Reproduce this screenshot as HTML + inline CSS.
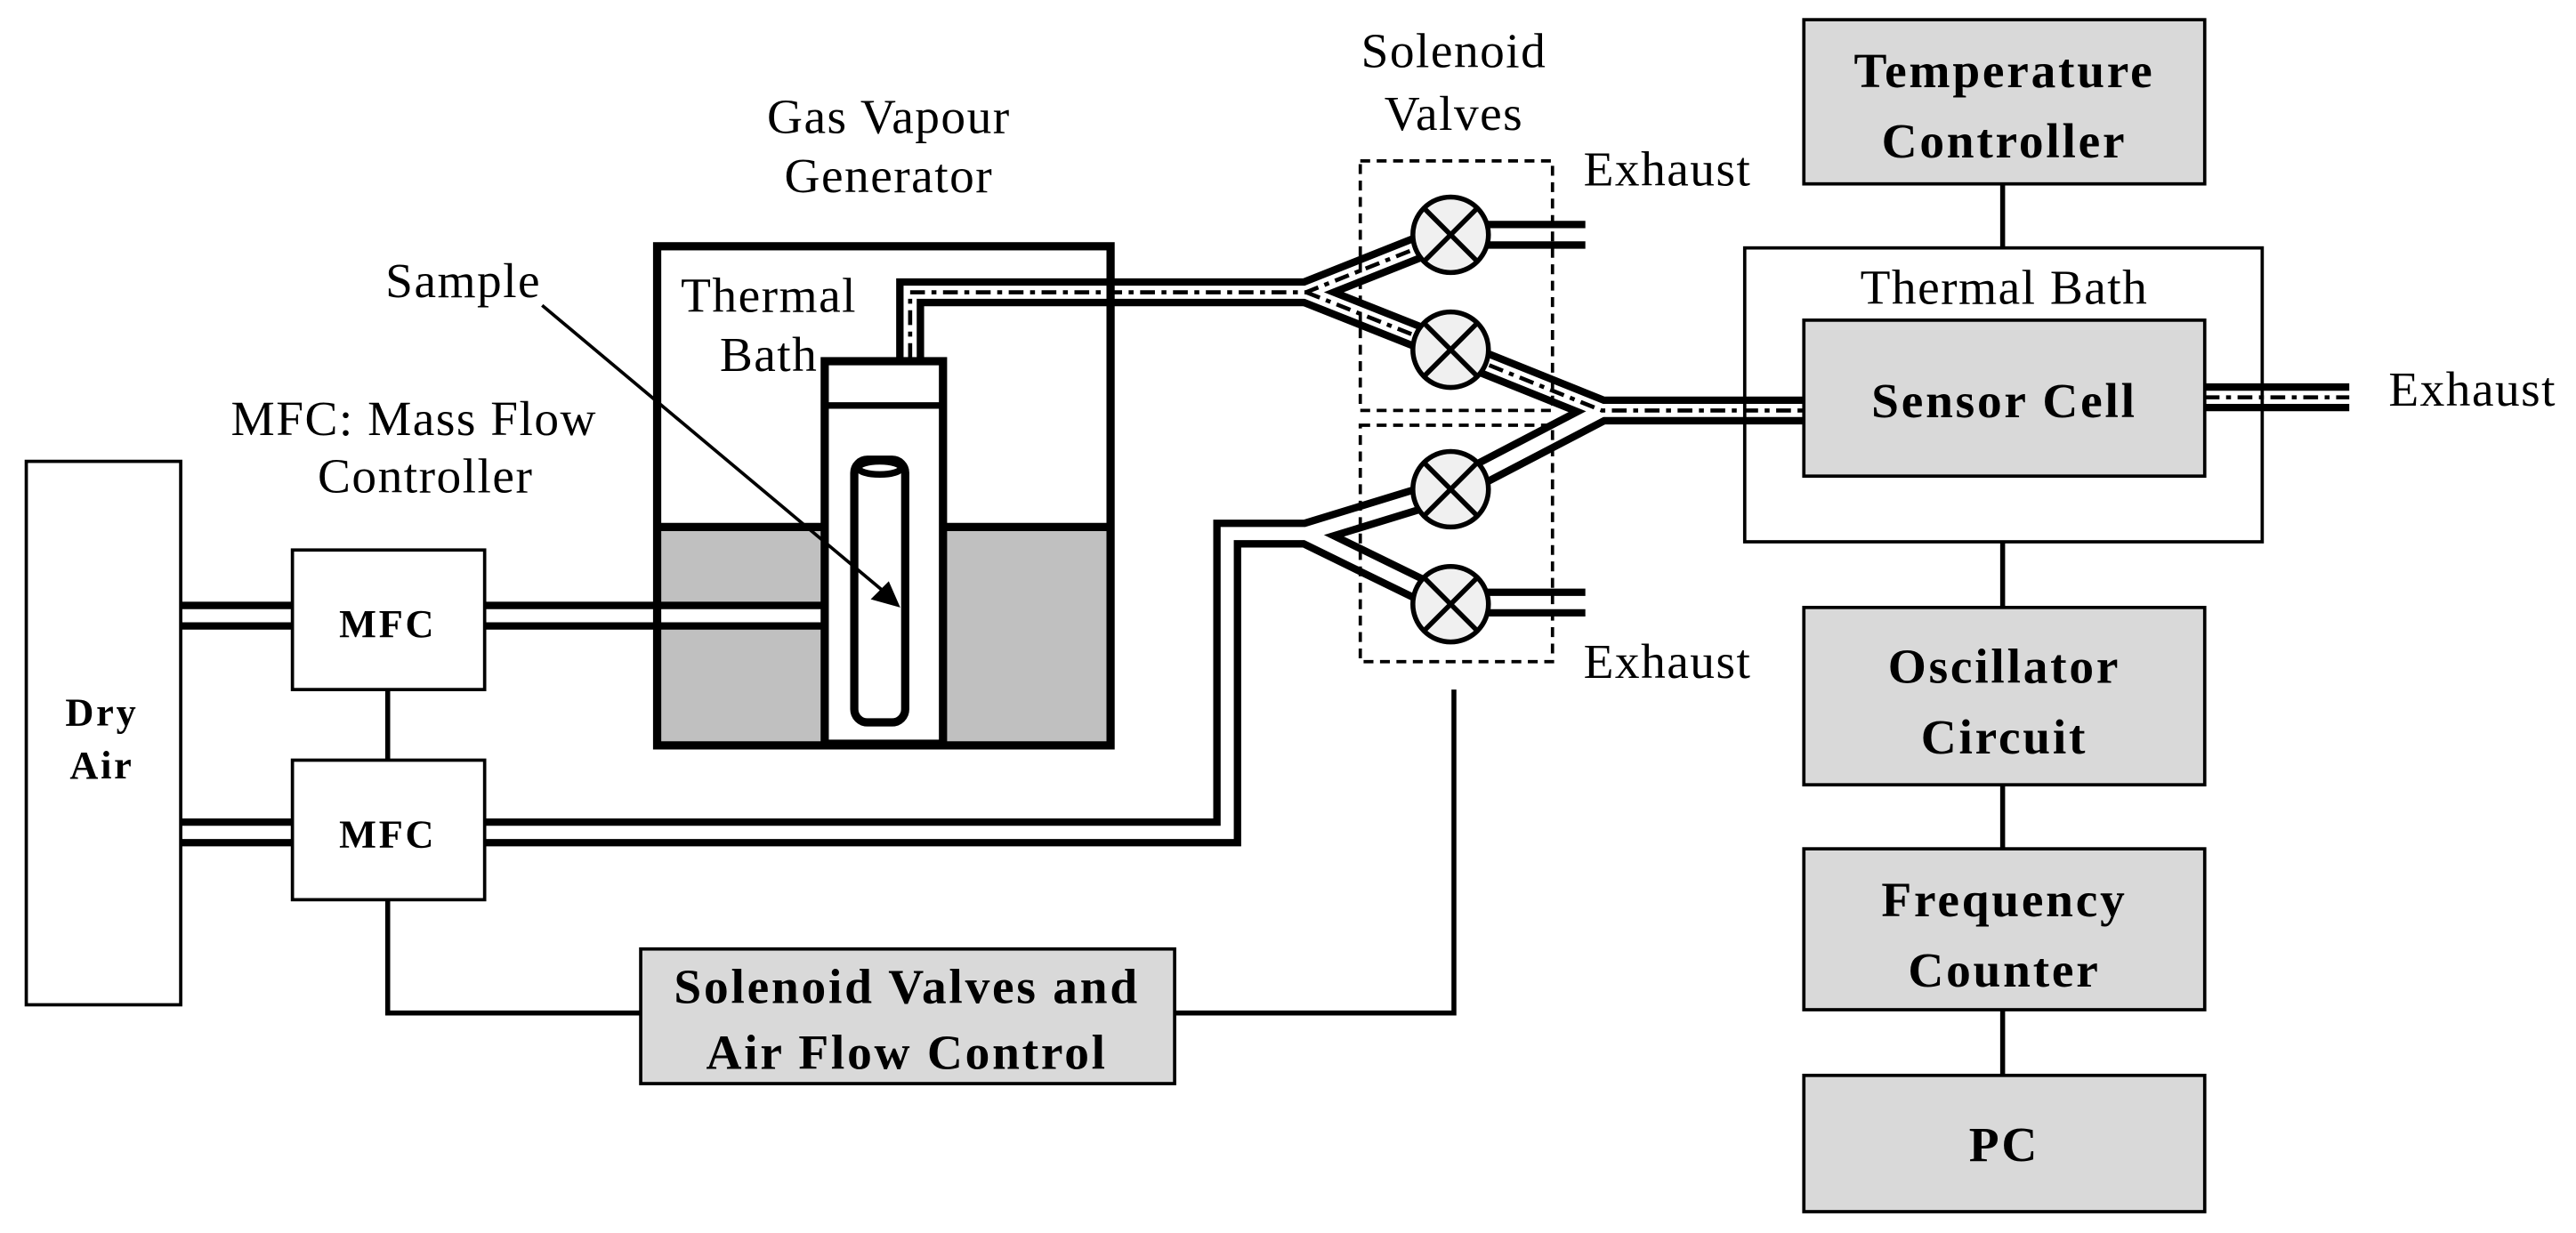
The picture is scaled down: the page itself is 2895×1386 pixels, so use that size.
<!DOCTYPE html>
<html><head><style>html,body{margin:0;padding:0;background:#fff}svg{display:block}</style></head>
<body>
<svg width="2895" height="1386" viewBox="0 0 1568 751" preserveAspectRatio="none" xmlns="http://www.w3.org/2000/svg" font-family="'Liberation Serif', serif">
<rect x="400" y="322" width="100" height="131" fill="#c0c0c0"/>
<rect x="575" y="322" width="100" height="131" fill="#c0c0c0"/>
<g fill="none" stroke-linejoin="miter">
<g stroke="#000" stroke-width="17">
<polyline points="105,375 178,375"/>
<polyline points="295,375 500,375"/>
<polyline points="105,507 178,507"/>
<polyline points="295,507 747,507 747,325 795,325 883,298"/>
<polyline points="795,325 883,368"/>
<polyline points="554,218 554,178 795,178 883,143"/>
<polyline points="795,178 883,213 975,250 1098,250"/>
<polyline points="883,298 975,250"/>
<polyline points="883,143 965,143"/>
<polyline points="883,367 965,367"/>
<polyline points="1342,242 1430,242"/>
</g>
<g stroke="#fff" stroke-width="8">
<polyline points="100,375 183,375"/>
<polyline points="290,375 500,375"/>
<polyline points="100,507 183,507"/>
<polyline points="290,507 747,507 747,325 795,325 883,298"/>
<polyline points="795,325 883,368"/>
<polyline points="554,222 554,178 795,178 883,143"/>
<polyline points="795,178 883,213 975,250 1098,250"/>
<polyline points="883,298 975,250"/>
<polyline points="883,143 970,143"/>
<polyline points="883,367 970,367"/>
<polyline points="1342,242 1435,242"/>
</g>
<g stroke="#000" stroke-width="2.5" stroke-dasharray="9 4 3 4">
<polyline points="554,218 554,178 795,178 883,143"/>
<polyline points="795,178 883,213 975,250 1098,250"/>
<polyline points="1342,242 1430,242"/>
</g>
</g>
<rect x="400" y="150" width="276" height="304" fill="none" stroke="#000" stroke-width="5"/>
<line x1="400" y1="321" x2="676" y2="321" stroke="#000" stroke-width="5"/>
<rect x="502" y="220" width="72" height="233" fill="#fff" stroke="#000" stroke-width="5"/>
<line x1="502" y1="247" x2="574" y2="247" stroke="#000" stroke-width="4"/>
<rect x="520" y="280" width="31" height="160" rx="8" fill="#fff" stroke="#000" stroke-width="5"/>
<ellipse cx="535.5" cy="285" rx="13" ry="4" fill="#fff" stroke="#000" stroke-width="4"/>
<line x1="330" y1="186" x2="540" y2="362" stroke="#000" stroke-width="2"/>
<polygon points="548,370 530,365 541,354" fill="#000"/>
<rect x="828" y="98" width="117" height="152" fill="none" stroke="#000" stroke-width="2" stroke-dasharray="6 4"/>
<rect x="828" y="259" width="117" height="144" fill="none" stroke="#000" stroke-width="2" stroke-dasharray="6 4"/>
<g stroke="#000" stroke-width="3" fill="#f0f0f0">
<circle cx="883" cy="143" r="23"/><circle cx="883" cy="213" r="23"/>
<circle cx="883" cy="298" r="23"/><circle cx="883" cy="368" r="23"/>
<path d="M867,127L899,159M899,127L867,159M867,197L899,229M899,197L867,229M867,282L899,314M899,282L867,314M867,352L899,384M899,352L867,384" fill="none"/>
</g>
<rect x="16" y="281" width="94" height="331" fill="#fff" stroke="#000" stroke-width="2"/>
<rect x="178" y="335" width="117" height="85" fill="#fff" stroke="#000" stroke-width="2"/>
<rect x="178" y="463" width="117" height="85" fill="#fff" stroke="#000" stroke-width="2"/>
<g stroke="#000" stroke-width="3" fill="none">
<line x1="236" y1="420" x2="236" y2="463"/>
<polyline points="236,548 236,617 390,617"/>
<polyline points="715,617 885,617 885,420"/>
<line x1="1219" y1="112" x2="1219" y2="151"/>
<line x1="1219" y1="330" x2="1219" y2="370"/>
<line x1="1219" y1="478" x2="1219" y2="517"/>
<line x1="1219" y1="615" x2="1219" y2="655"/>
</g>
<g stroke="#000" stroke-width="2" fill="#d9d9d9">
<rect x="390" y="578" width="325" height="82"/>
<rect x="1098" y="12" width="244" height="100"/>
<rect x="1062" y="151" width="315" height="179" fill="none"/>
<rect x="1098" y="195" width="244" height="95"/>
<rect x="1098" y="370" width="244" height="108"/>
<rect x="1098" y="517" width="244" height="98"/>
<rect x="1098" y="655" width="244" height="83"/>
</g>
<g font-size="30" letter-spacing="0.8" fill="#000" text-anchor="middle">
<text x="541" y="81">Gas Vapour</text>
<text x="541" y="117">Generator</text>
<text x="468" y="190">Thermal</text>
<text x="468" y="226">Bath</text>
<text x="282" y="181">Sample</text>
<text x="252" y="265">MFC: Mass Flow</text>
<text x="259" y="300">Controller</text>
<text x="885" y="41">Solenoid</text>
<text x="885" y="79">Valves</text>
<text x="1015" y="113">Exhaust</text>
<text x="1015" y="413">Exhaust</text>
<text x="1505" y="247">Exhaust</text>
<text x="1220" y="185">Thermal Bath</text>
</g>
<g font-size="30" letter-spacing="1.5" font-weight="bold" fill="#000" text-anchor="middle">
<text x="62" y="442" font-size="24">Dry</text>
<text x="62" y="474" font-size="24">Air</text>
<text x="236" y="388" font-size="24">MFC</text>
<text x="236" y="516" font-size="24">MFC</text>
<text x="552" y="611">Solenoid Valves and</text>
<text x="552" y="651">Air Flow Control</text>
<text x="1220" y="53">Temperature</text>
<text x="1220" y="96">Controller</text>
<text x="1220" y="254">Sensor Cell</text>
<text x="1220" y="416">Oscillator</text>
<text x="1220" y="459">Circuit</text>
<text x="1220" y="558">Frequency</text>
<text x="1220" y="601">Counter</text>
<text x="1220" y="707">PC</text>
</g>
</svg>
</body></html>
